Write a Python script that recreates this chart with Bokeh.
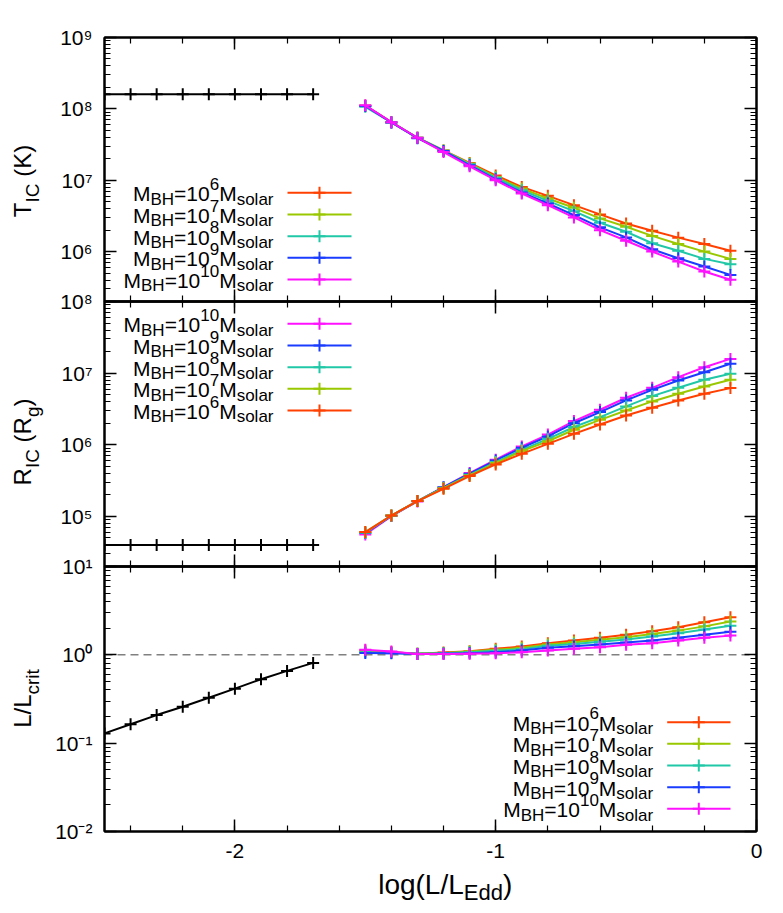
import math
from bokeh.plotting import figure
from bokeh.models import (Range1d, LinearAxis, LogAxis, FixedTicker,
                          SingleIntervalTicker, Label, Span, CustomJSTickFormatter)
from bokeh.layouts import column
from bokeh.embed import file_html
from bokeh.resources import INLINE

FONT = "Liberation Sans"

# ---------------- data ----------------
x_hi = [-1.5, -1.4, -1.3, -1.2, -1.1, -1.0, -0.9, -0.8, -0.7, -0.6, -0.5, -0.4, -0.3, -0.2, -0.1]
x_lo = [-2.5, -2.4, -2.3, -2.2, -2.1, -2.0, -1.9, -1.8, -1.7]

mass_exponents = ["6", "7", "8", "9", "10"]
colors = ["#ff4000", "#99c800", "#20c8a8", "#1a3cff", "#ff10ff"]

# Compton temperature T_IC (K)
T_m6 = [1.11e8, 6.52e7, 3.94e7, 2.62e7, 1.75e7, 1.17e7, 8.07e6, 6.04e6, 4.48e6, 3.32e6, 2.48e6, 1.96e6, 1.57e6, 1.28e6, 1.03e6]
T_m7 = [1.11e8, 6.52e7, 3.94e7, 2.62e7, 1.71e7, 1.11e7, 7.66e6, 5.55e6, 4.11e6, 2.92e6, 2.23e6, 1.66e6, 1.28e6, 1.00e6, 7.91e5]
T_m8 = [1.07e8, 6.46e7, 3.94e7, 2.59e7, 1.67e7, 1.08e7, 7.24e6, 5.15e6, 3.69e6, 2.54e6, 1.90e6, 1.31e6, 1.03e6, 7.91e5, 6.65e5]
T_m9 = [1.10e8, 6.46e7, 3.89e7, 2.57e7, 1.62e7, 1.03e7, 6.73e6, 4.72e6, 3.25e6, 2.19e6, 1.58e6, 1.08e6, 8.07e5, 6.18e5, 4.72e5]
T_m10 = [1.12e8, 6.52e7, 3.94e7, 2.48e7, 1.57e7, 1.00e7, 6.52e6, 4.48e6, 3.01e6, 2.00e6, 1.42e6, 1.00e6, 7.24e5, 5.26e5, 4.03e5]
T_low = [1.6e8, 1.6e8, 1.6e8, 1.6e8, 1.6e8, 1.6e8, 1.6e8, 1.6e8, 1.6e8]

# Compton radius R_IC (R_g)
R_m6 = [6.04e4, 1.03e5, 1.64e5, 2.43e5, 3.66e5, 5.32e5, 7.48e5, 1.03e6, 1.42e6, 1.92e6, 2.56e6, 3.28e6, 4.16e6, 5.15e6, 6.18e6]
R_m7 = [6.04e4, 1.03e5, 1.64e5, 2.48e5, 3.73e5, 5.55e5, 8.17e5, 1.12e6, 1.62e6, 2.23e6, 3.01e6, 4.03e6, 5.15e6, 6.52e6, 8.07e6]
R_m8 = [5.92e4, 1.03e5, 1.64e5, 2.51e5, 3.81e5, 5.73e5, 8.51e5, 1.21e6, 1.77e6, 2.43e6, 3.43e6, 4.78e6, 6.24e6, 8.07e6, 9.79e6]
R_m9 = [5.85e4, 1.02e5, 1.64e5, 2.56e5, 3.94e5, 6.04e5, 9.08e5, 1.31e6, 2.00e6, 2.86e6, 4.16e6, 5.85e6, 7.91e6, 1.03e7, 1.35e7]
R_m10 = [5.61e4, 1.01e5, 1.62e5, 2.56e5, 4.03e5, 6.18e5, 9.48e5, 1.39e6, 2.14e6, 3.08e6, 4.53e6, 6.24e6, 8.79e6, 1.21e7, 1.58e7]
R_low = [4.0e4, 4.0e4, 4.0e4, 4.0e4, 4.0e4, 4.0e4, 4.0e4, 4.0e4, 4.0e4]

# L / L_crit
L_m6 = [1.12, 1.07, 1.03, 1.06, 1.10, 1.17, 1.24, 1.35, 1.45, 1.56, 1.69, 1.85, 2.05, 2.34, 2.66]
L_m7 = [1.09, 1.07, 1.03, 1.05, 1.09, 1.14, 1.20, 1.31, 1.39, 1.48, 1.58, 1.72, 1.88, 2.10, 2.38]
L_m8 = [1.07, 1.05, 1.03, 1.04, 1.07, 1.11, 1.16, 1.27, 1.33, 1.41, 1.49, 1.61, 1.76, 1.93, 2.14]
L_m9 = [1.05, 1.04, 1.02, 1.03, 1.04, 1.07, 1.12, 1.20, 1.25, 1.31, 1.38, 1.45, 1.56, 1.69, 1.83]
L_m10 = [1.14, 1.09, 1.02, 1.02, 1.03, 1.04, 1.07, 1.12, 1.17, 1.22, 1.30, 1.35, 1.45, 1.56, 1.65]
L_low = [0.129, 0.164, 0.208, 0.258, 0.327, 0.414, 0.530, 0.658, 0.810]
L_crit_ref = 1.0

T_series = [T_m6, T_m7, T_m8, T_m9, T_m10]
R_series = [R_m6, R_m7, R_m8, R_m9, R_m10]
L_series = [L_m6, L_m7, L_m8, L_m9, L_m10]

# tick values and labels
x_ticks = [-2, -1, 0]
x_tick_labels = ["-2", "-1", "0"]
T_ticks = [1e6, 1e7, 1e8, 1e9]
T_tick_labels = ["10\u2076", "10\u2077", "10\u2078", "10\u2079"]
R_ticks = [1e5, 1e6, 1e7, 1e8]
R_tick_labels = ["10\u2075", "10\u2076", "10\u2077", "10\u2078"]
L_ticks = [1e-2, 1e-1, 1e0, 1e1]
L_tick_labels = ["10\u207b\u00b2", "10\u207b\u00b9", "10\u2070", "10\u00b9"]

# ---------------- geometry (page pixels) ----------------
FL, FW = 104.0, 652.0
XR = (-2.5, 0.0)
PT = dict(top=37.0, h=264, lo=2e5, hi=1e9)
PR = dict(top=301.0, h=265, lo=2e4, hi=1e8)
PL = dict(top=566.0, h=265, lo=1e-2, hi=1e1)
PAGE_W, PAGE_H = 776, 905
BASE_FIX = 0.28   # label baseline correction, in em

W = {'M': 833, 'B': 667, 'H': 722, '=': 584, '0': 556, '1': 556, '2': 556, '3': 556,
     '4': 556, '5': 556, '6': 556, '7': 556, '8': 556, '9': 556, 's': 500, 'o': 556,
     'l': 222, 'a': 556, 'r': 333, '-': 333, ' ': 278, '(': 333, ')': 333, 'T': 611,
     'I': 278, 'C': 722, 'K': 667, 'R': 722, 'g': 556, 'L': 556, '/': 278, 'c': 500,
     'i': 222, 't': 278, 'E': 667, 'd': 556}


def tw(s, size):
    return sum(W.get(c, 556) for c in s) / 1000.0 * size


def px2x(px):
    return XR[0] + (px - FL) / FW * (XR[1] - XR[0])


def py2y(P, py):
    lo, hi = math.log10(P["lo"]), math.log10(P["hi"])
    return 10 ** (hi - (py - P["top"]) / P["h"] * (hi - lo))


def label(p, text, size, x, y, angle=0.0):
    p.add_layout(Label(x=x, y=y, text=text, text_font=FONT,
                       text_font_size=f"{size}px", text_color="black",
                       text_align="left", text_baseline="alphabetic", angle=angle))


def rich_h_panel(p, P, pieces, x0, base):
    cur = x0
    for t, s, dy in pieces:
        label(p, t, s, px2x(cur), py2y(P, base + dy - BASE_FIX * s))
        cur += tw(t, s)


TICK_JS = """
for (let i = 0; i < tvals.length; i++) {
  if (Math.abs(tvals[i] - tick) <= 1e-9 * Math.abs(tvals[i]) + 1e-12) { return tlabels[i]; }
}
return '';
"""


def style_axis(ax):
    ax.major_tick_in = 12
    ax.major_tick_out = 0
    ax.minor_tick_in = 6
    ax.minor_tick_out = 0
    ax.major_tick_line_color = "black"
    ax.minor_tick_line_color = "black"
    ax.major_tick_line_width = 1.5
    ax.minor_tick_line_width = 1.2
    ax.axis_line_color = "black"
    ax.axis_line_width = 2


def hide_labels(ax):
    ax.formatter = CustomJSTickFormatter(code="return '';")
    ax.major_label_text_color = None
    ax.major_label_text_font_size = "10px"
    ax.major_label_standoff = 0


def make_fig(P, bt, bb, margin_top, yticks, ylabels, xlabels):
    p = figure(frame_width=int(FW), frame_height=P["h"], x_range=Range1d(*XR),
               y_range=Range1d(P["lo"], P["hi"]), y_axis_type="log",
               output_backend="svg", toolbar_location=None,
               min_border_left=int(FL), min_border_right=20, min_border_top=bt,
               min_border_bottom=bb, background_fill_color=None, border_fill_color=None,
               outline_line_color="black", outline_line_width=2,
               margin=(margin_top, 0, 0, 0))
    p.xgrid.visible = False
    p.ygrid.visible = False
    p.add_layout(LinearAxis(), "above")
    p.add_layout(LogAxis(), "right")
    elo, ehi = math.log10(P["lo"]), math.log10(P["hi"])
    minors = [k * 10.0 ** e for e in range(math.floor(elo), math.ceil(ehi))
              for k in range(2, 10) if P["lo"] <= k * 10.0 ** e <= P["hi"]]
    for ax in p.yaxis:
        ax.ticker = FixedTicker(ticks=yticks, minor_ticks=minors)
        style_axis(ax)
        hide_labels(ax)
    for ax in p.xaxis:
        ax.ticker = SingleIntervalTicker(interval=1, num_minor_ticks=5)
        style_axis(ax)
        hide_labels(ax)
    left = p.left[0]
    left.formatter = CustomJSTickFormatter(args=dict(tvals=yticks, tlabels=ylabels), code=TICK_JS)
    left.major_label_text_font_size = "21px"
    left.major_label_text_font = FONT
    left.major_label_text_color = "black"
    left.major_label_standoff = 12
    if xlabels:
        ax = p.below[0]
        ax.formatter = CustomJSTickFormatter(args=dict(tvals=x_ticks, tlabels=x_tick_labels),
                                             code=TICK_JS)
        ax.major_label_text_font_size = "21px"
        ax.major_label_text_font = FONT
        ax.major_label_text_color = "black"
        ax.major_label_standoff = 12
    return p


def draw_series(p, x, y, color, lw=2):
    p.line(x, y, line_color=color, line_width=lw)
    p.scatter(x, y, marker="cross", size=12, line_color=color, line_width=lw)


def legend(p, P, order, rows_y, text_right, lx0, lx1, lxm):
    for idx, ry in zip(order, rows_y):
        color, ex = colors[idx], mass_exponents[idx]
        yv = py2y(P, ry)
        p.line([px2x(lx0), px2x(lx1)], [yv, yv], line_color=color, line_width=2)
        p.scatter([px2x(lxm)], [yv], marker="cross", size=12, line_color=color, line_width=2)
        pieces = [("M", 21, 0), ("BH", 17, 4), ("=10", 21, 0), (ex, 17, -11),
                  ("M", 21, 0), ("solar", 17, 4)]
        total = sum(tw(t, s) for t, s, _ in pieces)
        rich_h_panel(p, P, pieces, text_right - total, ry + 7)


# ---------------- top panel: T_IC ----------------
f1 = make_fig(PT, 37, 20, 0, T_ticks, T_tick_labels, False)
draw_series(f1, x_lo, T_low, "black")
for i in range(5):
    draw_series(f1, x_hi, T_series[i], colors[i])
legend(f1, PT, [0, 1, 2, 3, 4], [192.3, 214.0, 235.7, 257.3, 279.0], 273.0, 287.0, 351.0, 319.0)

# ---------------- middle panel: R_IC ----------------
f2 = make_fig(PR, 20, 20, -40, R_ticks, R_tick_labels, False)
draw_series(f2, x_lo, R_low, "black")
for i in [4, 3, 2, 1, 0]:
    draw_series(f2, x_hi, R_series[i], colors[i])
legend(f2, PR, [4, 3, 2, 1, 0], [323.3, 345.0, 366.7, 388.3, 410.0], 273.0, 287.0, 351.0, 319.0)

# ---------------- bottom panel: L/L_crit ----------------
f3 = make_fig(PL, 20, 74, -40, L_ticks, L_tick_labels, True)
f3.add_layout(Span(location=L_crit_ref, dimension="width", line_color="#808080",
                   line_width=1.5, line_dash="8 5", level="underlay"))
draw_series(f3, x_lo, L_low, "black")
for i in range(5):
    draw_series(f3, x_hi, L_series[i], colors[i])
legend(f3, PL, [0, 1, 2, 3, 4], [721.7, 743.3, 765.0, 786.7, 808.3], 652.7, 666.7, 730.0, 698.3)

# ---------------- transparent overlay (separate root) holding the axis titles ----------------
ov = figure(frame_width=PAGE_W, frame_height=PAGE_H, x_range=Range1d(0, PAGE_W),
            y_range=Range1d(PAGE_H, 0), output_backend="svg", toolbar_location=None,
            x_axis_location=None, y_axis_location=None,
            min_border_left=0, min_border_right=0, min_border_top=0, min_border_bottom=0,
            background_fill_color=None, border_fill_color=None, outline_line_color=None,
            margin=(-PAGE_H, 0, 0, 0))
ov.xgrid.visible = False
ov.ygrid.visible = False


def rich_v(pieces, base_x, center_y):
    total = sum(tw(t, s) for t, s, _ in pieces)
    cur = center_y + total / 2.0
    for t, s, dx in pieces:
        lead = len(t) - len(t.lstrip(" "))
        cur -= tw(" " * lead, s)
        t = t.lstrip(" ")
        label(ov, t, s, base_x + dx - BASE_FIX * s, cur, angle=math.pi / 2)
        cur -= tw(t, s)


def rich_h(pieces, center_x, base):
    total = sum(tw(t, s) for t, s, _ in pieces)
    cur = center_x - total / 2.0
    for t, s, dy in pieces:
        label(ov, t, s, cur, base + dy - BASE_FIX * s)
        cur += tw(t, s)


rich_v([("T", 24, 0), ("IC", 19, 9), (" (K)", 24, 0)], 28.5, 180.5)
rich_v([("R", 24, 0), ("IC", 19, 9), (" (R", 24, 0), ("g", 19, 9), (")", 24, 0)], 28.5, 441.5)
rich_v([("L/L", 24, 0), ("crit", 19, 9)], 28.5, 698.0)
rich_h([("log(L/L", 28, 0), ("Edd", 22, 6), (")", 28, 0)], 444.7, 892.0)

layout = column(f1, f2, f3)
open("out.html", "w").write(file_html([layout, ov], INLINE))
